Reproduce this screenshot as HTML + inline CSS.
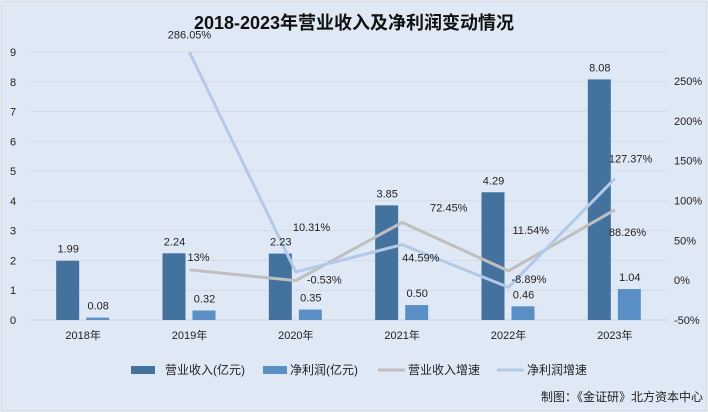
<!DOCTYPE html>
<html><head><meta charset="utf-8"><style>
html,body{margin:0;padding:0;background:#fff}
svg{display:block;font-family:"Liberation Sans","Noto Sans CJK SC",sans-serif}
</style></head><body>
<svg id="c" width="708" height="412">
<rect x="1" y="1" width="706" height="410" fill="#dfe9f5" stroke="#c9d3de"/>
<text x="354" y="29" text-anchor="middle" font-size="18" font-weight="bold" fill="#111">2018-2023年营业收入及净利润变动情况</text>
<g id="grid"></g><g id="bars"></g><g id="lines"></g><g id="labels"></g>
<g font-size="12" fill="#222">
<rect x="131" y="366" width="24" height="8" fill="#44729f"/>
<text x="165" y="374">营业收入(亿元)</text>
<rect x="263" y="366" width="24" height="8" fill="#5a8fc6"/>
<text x="290" y="374">净利润(亿元)</text>
<line x1="378" y1="370" x2="405" y2="370" stroke="#bfbfbf" stroke-width="3"/>
<text x="408" y="374">营业收入增速</text>
<line x1="497" y1="370" x2="524" y2="370" stroke="#b4c9e8" stroke-width="3"/>
<text x="527" y="374">净利润增速</text>
</g>
<text x="703" y="401" text-anchor="end" font-size="12" fill="#222">制图：《金证研》北方资本中心</text>
</svg>
<script>
const categories=["2018年","2019年","2020年","2021年","2022年","2023年"];
const revenue=[1.99,2.24,2.23,3.85,4.29,8.08];
const profit=[0.08,0.32,0.35,0.50,0.46,1.04];
const revGrowth=[null,13,-0.53,72.45,11.54,88.26];
const profitGrowth=[null,286.05,10.31,44.59,-8.89,127.37];
const leftTicks=[0,1,2,3,4,5,6,7,8,9];
const rightTicks=[-50,0,50,100,150,200,250];
const revLabelOff=[null,[-2,-9,"start"],[11,3,"start"],[28,-11,"start"],[4,-37,"start"],[-6,26,"start"]];
const profLabelOff=[null,[0,-14,"middle"],[-3,-41,"start"],[0,17,"start"],[3,-4,"start"],[-6,-16,"start"]];
const NS="http://www.w3.org/2000/svg";
const X0=30,X1=668,Y0=320,Y9=52;
const band=(X1-X0)/categories.length;
const cx=i=>X0+band*(i+0.5);
const yL=v=>Y0-(v/9)*(Y0-Y9);
const yR=v=>Y0-((v+50)/300)*239;
function mk(p,t,a){const e=document.createElementNS(NS,t);for(const k in a)e.setAttribute(k,a[k]);document.getElementById(p).appendChild(e);return e;}
leftTicks.forEach(v=>{
 const l=mk("grid","line",{x1:X0,x2:X1,y1:yL(v),y2:yL(v),stroke:v===0?"#c8ced6":"#d3dbe5","stroke-width":1});
 
 
 const t=mk("grid","text",{x:10,y:yL(v)+4,"font-size":11,fill:"#222"});t.textContent=v;
 
 
});
rightTicks.forEach(v=>{
 const t=mk("grid","text",{x:674,y:yR(v)+4,"font-size":11,fill:"#222"});t.textContent=v+"%";
 
 
});
categories.forEach((c,i)=>{
 const t=mk("grid","text",{x:cx(i),y:339,"text-anchor":"middle","font-size":11,fill:"#222"});t.textContent=c;
 
 
 const b1=mk("bars","rect",{x:cx(i)-27,y:yL(revenue[i]),width:23,height:Y0-yL(revenue[i]),fill:"#44729f"});
 
 
 const b2=mk("bars","rect",{x:cx(i)+3,y:yL(profit[i]),width:23,height:Y0-yL(profit[i]),fill:"#5a8fc6"});
 
 
 const t1=mk("labels","text",{x:cx(i)-15,y:yL(revenue[i])-8,"text-anchor":"middle","font-size":11,fill:"#222"});t1.textContent=revenue[i].toFixed(2);
 
 
 const t2=mk("labels","text",{x:cx(i)+15,y:yL(profit[i])-8,"text-anchor":"middle","font-size":11,fill:"#222"});t2.textContent=profit[i].toFixed(2);
 
 
});
function line(arr,color,name,offs){
 const pts=[];arr.forEach((v,i)=>{if(v!==null)pts.push(cx(i)+","+yR(v));});
 const p=mk("lines","polyline",{points:pts.join(" "),fill:"none",stroke:color,"stroke-width":3,"stroke-linejoin":"round"});
 
 
 arr.forEach((v,i)=>{if(v===null)return;const o=offs[i];
  const t=mk("labels","text",{x:cx(i)+o[0],y:yR(v)+o[1],"text-anchor":o[2],"font-size":11,fill:"#222"});
  t.textContent=(Math.round(v*100)/100)+"%";
  
  
 });
}
line(revGrowth,"#bfbfbf","revenue-growth-line",revLabelOff);
line(profitGrowth,"#b4c9e8","profit-growth-line",profLabelOff);
</script>
</body></html>
